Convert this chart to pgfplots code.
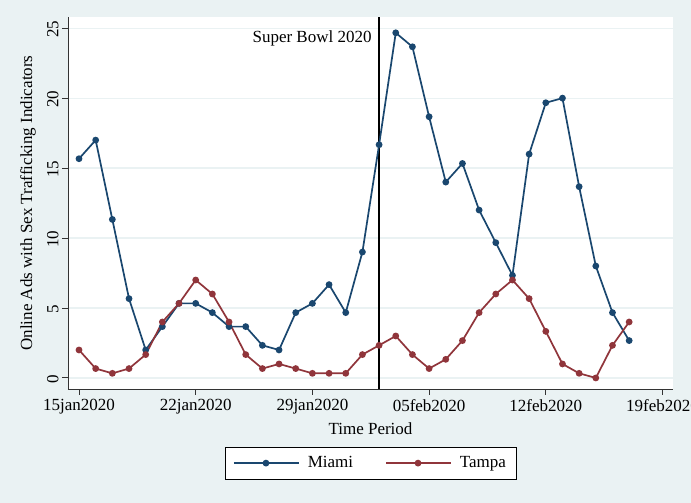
\documentclass[border=0pt]{standalone}
\usepackage{fontspec}
\setmainfont{Liberation Serif}
\usepackage{pgfplots}
\usepackage{pgfplotstable}
\pgfplotsset{compat=1.18}
\definecolor{bgblue}{HTML}{EAF2F3}
\definecolor{stnavy}{HTML}{1A476F}
\definecolor{stmaroon}{HTML}{90353B}

% day 0 = 15jan2020
\pgfplotstableread{
day miami tampa
0  15.67 2
1  17    0.67
2  11.33 0.33
3  5.67  0.67
4  2     1.67
5  3.67  4
6  5.33  5.33
7  5.33  7
8  4.67  6
9  3.67  4
10 3.67  1.67
11 2.33  0.67
12 2     1
13 4.67  0.67
14 5.33  0.33
15 6.67  0.33
16 4.67  0.33
17 9     1.67
18 16.67 2.33
19 24.67 3
20 23.67 1.67
21 18.67 0.67
22 14    1.33
23 15.33 2.67
24 12    4.67
25 9.67  6
26 7.33  7
27 16    5.67
28 19.67 3.33
29 20    1
30 13.67 0.33
31 8     0
32 4.67  2.33
33 2.67  4
}\ads

\begin{document}
\begin{tikzpicture}[x=1pt,y=1pt]
\clip (0,0) rectangle (691,503);
\fill[bgblue] (0,0) rectangle (691,503);
\begin{axis}[
  at={(68pt,114pt)}, anchor=south west,
  scale only axis, width=605pt, height=372pt,
  xmin=-0.66, xmax=35.63, ymin=-0.79, ymax=25.8,
  axis x line*=bottom, axis y line*=left,
  axis line style={-, black!80, line width=0.9pt},
  axis background/.style={fill=white},
  font=\fontsize{17}{17}\selectfont,
  /pgf/number format/assume math mode=true,
  xtick={0,7,14,21,28,35},
  xticklabels={15jan2020,22jan2020,29jan2020,05feb2020,12feb2020,19feb2020},
  ytick={0,5,10,15,20,25},
  tick align=outside, major tick length=6pt,
  tick style={black!80, line width=0.9pt},
  xticklabel style={yshift=-1pt},
  yticklabel style={rotate=90, anchor=south, xshift=-1pt},
  ymajorgrids, grid style={bgblue, line width=1.2pt},
  xlabel={Time Period},
  ylabel={Online Ads with Sex Trafficking Indicators},
  x label style={at={(axis description cs:0.5,-0.081)}, anchor=north},
  y label style={at={(axis description cs:-0.066,0.5)}, anchor=center},
  legend style={at={(axis description cs:0.5,-0.156)}, anchor=north,
    legend columns=2, draw=black, fill=white,
    inner xsep=8pt, inner ysep=7.5pt,
    /tikz/every odd column/.append style={column sep=6pt},
    /tikz/every even column/.append style={column sep=30pt}},
  legend image code/.code={
    \draw[mark repeat=2, mark phase=2] plot coordinates {(0pt,0pt) (32pt,0pt) (65pt,0pt)};},
]
\addplot[black, line width=2.6pt, forget plot] coordinates {(18,-0.79) (18,25.8)};
\addplot[stnavy, line width=1.7pt, mark=*, mark size=2.5pt] table[x=day, y=miami] {\ads};
\addlegendentry{Miami}
\addplot[stmaroon, line width=1.7pt, mark=*, mark size=2.5pt] table[x=day, y=tampa] {\ads};
\addlegendentry{Tampa}
\node[anchor=east, xshift=-4pt] at (axis cs:18,24.3) {Super Bowl 2020};
\end{axis}
\end{tikzpicture}
\end{document}
